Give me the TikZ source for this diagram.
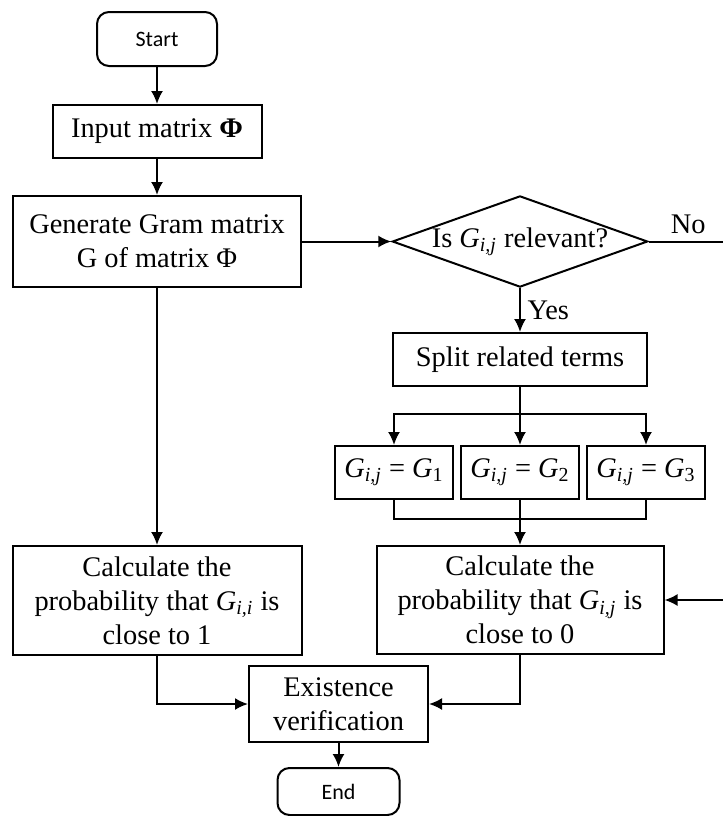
\documentclass[tikz,border=0pt]{standalone}
\usepackage{fontspec}
\setmainfont{Liberation Serif}
\newfontfamily\termfont{Carlito}
\usepackage{tikz}
\usetikzlibrary{arrows.meta,shapes.geometric}
\tikzstyle{terminator} = [rectangle, draw, line width=1pt, text centered, rounded corners=6pt, font=\termfont\fontsize{11pt}{13pt}\selectfont]
\tikzstyle{process} = [rectangle, draw, line width=1pt, align=center, inner sep=0pt, font=\fontsize{14.2pt}{17pt}\selectfont]
\tikzstyle{decision} = [diamond, draw, line width=1pt, inner sep=0pt, aspect=2.8, font=\fontsize{14.2pt}{17pt}\selectfont]
\tikzstyle{connector} = [line width=1pt,-{Latex[length=6.5pt,width=6pt]}]
\tikzstyle{branch} = [line width=1pt]
\tikzstyle{answer} = [font=\fontsize{14.2pt}{17pt}\selectfont]
\newcommand{\Gij}{\textit{G}\textsubscript{\textit{i,j}}}
\newcommand{\Gii}{\textit{G}\textsubscript{\textit{i,i}}}

\begin{document}
\begin{tikzpicture}[x=0.5pt,y=-0.5pt]
    \useasboundingbox (0,0) rectangle (723,816);
    % main column
    \node (start) [terminator, minimum width=60pt, minimum height=27pt] at (157,39) {Start};
    \node (input) [process, minimum width=104.5pt, minimum height=26.5pt] at (157,131.5) {Input matrix \textbf{Φ}};
    \node (gram) [process, minimum width=144pt, minimum height=45.5pt] at (157,241.5) {Generate Gram matrix\\G of matrix Φ};
    \node (prob-one) [process, minimum width=144.5pt, minimum height=54.5pt] at (157,600.5) {Calculate the\\probability that \Gii\ is\\close to 1};
    % right column
    \node (relevant) [decision, minimum width=126.5pt, minimum height=45pt] at (520,241.5) {Is \Gij\ relevant?};
    \node (split) [process, minimum width=127pt, minimum height=26.5pt] at (520,359.5) {Split related terms};
    \node (g1) [process, minimum width=59pt, minimum height=26.5pt] at (394,472.5) {\Gij\ = \textit{G}\textsubscript{1}};
    \node (g2) [process, minimum width=59pt, minimum height=26.5pt] at (520,472.5) {\Gij\ = \textit{G}\textsubscript{2}};
    \node (g3) [process, minimum width=59pt, minimum height=26.5pt] at (646,472.5) {\Gij\ = \textit{G}\textsubscript{3}};
    \node (prob-zero) [process, minimum width=143.5pt, minimum height=54pt] at (520,600) {Calculate the\\probability that \Gij\ is\\close to 0};
    % bottom
    \node (exist) [process, minimum width=89.5pt, minimum height=38pt] at (338.5,704) {Existence\\verification};
    \node (end) [terminator, minimum width=61pt, minimum height=23.5pt] at (338.5,791.5) {End};
    \coordinate (no-corner) at (724.5,241.5);

    \draw [connector] (start) -- (input);
    \draw [connector] (input) -- (gram);
    \draw [connector] (gram) -- (relevant);
    \draw [connector] (gram) -- (prob-one);
    \draw [connector] (relevant) -- node[answer,right] {Yes} (split);
    \draw [connector] (relevant.east) -- node[answer,above,pos=0.52] {No} (no-corner) |- (prob-zero.east);
    \draw [branch] (split.south) -- ++(0,27) coordinate (fork);
    \draw [connector] (fork) -| (g1);
    \draw [connector] (fork) -- (g2);
    \draw [connector] (fork) -| (g3);
    \draw [branch] (g1.south) -- ++(0,19) -| (g3.south);
    \draw [connector] (g2) -- (prob-zero);
    \draw [connector] (prob-one) |- (exist);
    \draw [connector] (prob-zero) |- (exist);
    \draw [connector] (exist) -- (end);
\end{tikzpicture}
\end{document}
